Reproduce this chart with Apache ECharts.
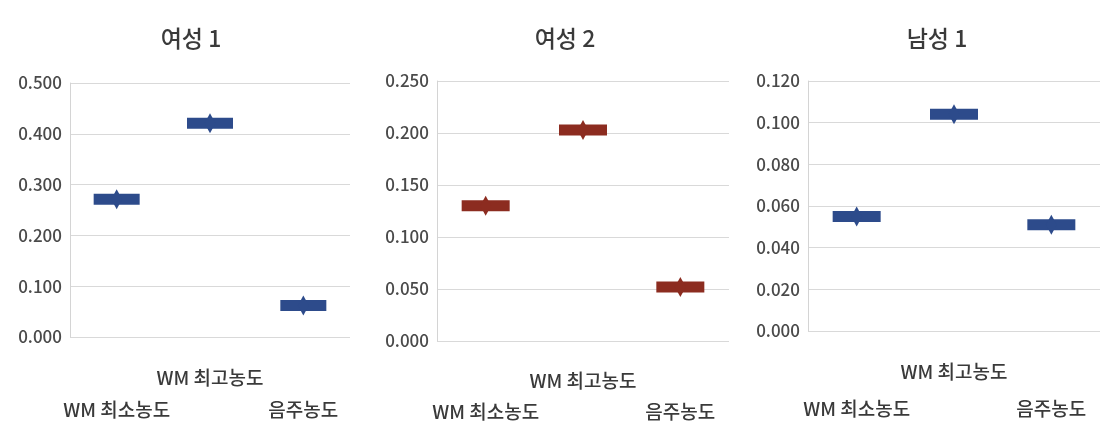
<!DOCTYPE html>
<html>
<head>
<meta charset="utf-8">
<script src="https://cdn.jsdelivr.net/npm/echarts@6/dist/echarts.min.js"></script>
<style>
  html, body { margin: 0; padding: 0; background: #fff; }
  #chart { width: 1108px; height: 427px; }
</style>
</head>
<body>
<div id="chart"></div>
<script>
// Concentration per subject: WM minimum, WM maximum, drinking concentration
const categories = ['WM 최소농도', 'WM 최고농도', '음주농도'];
const panelTitles = ['여성 1', '여성 2', '남성 1'];
const female1 = [0.271, 0.421, 0.062];
const female2 = [0.130, 0.203, 0.052];
const male1 = [0.055, 0.104, 0.051];
const axisMax = [0.5, 0.25, 0.12];
const axisStep = [0.1, 0.05, 0.02];

const panelValues = [female1, female2, male1];
const colors = ['#2d4b8b', '#8c2c20', '#2d4b8b'];
const font = '"Noto Sans CJK KR", "Noto Sans", sans-serif';

// layout of each small panel
const grids = [
  { left: 70, right: 758, top: 83, bottom: 90 },
  { left: 437, right: 379, top: 81, bottom: 86 },
  { left: 808, right: 8, top: 81, bottom: 95 }
];
const titleX = [186, 560, 932];
const labelMargin = [25, 24, 22];
const labelLine = [32, 31, 37];
const dashWidth = [46, 48, 48];

const option = {
  animation: false,
  title: panelTitles.map((t, i) => ({
    text: t,
    left: titleX[i],
    top: 22,
    textAlign: 'center',
    textStyle: { fontFamily: font, fontSize: 23, fontWeight: 500, color: '#3a3a3a' }
  })),
  grid: grids,
  xAxis: grids.map((g, i) => ({
    type: 'category',
    gridIndex: i,
    data: categories,
    boundaryGap: true,
    axisLine: { show: false },
    axisTick: { show: false },
    splitLine: { show: false },
    axisLabel: {
      interval: 0,
      hideOverlap: false,
      margin: labelMargin[i],
      fontFamily: font,
      fontSize: 19,
      fontWeight: 500,
      color: '#3a3a3a',
      lineHeight: labelLine[i],
      verticalAlign: 'top',
      formatter: (v, idx) => (idx === 1 ? v : '\n' + v)
    }
  })),
  yAxis: grids.map((g, i) => ({
    type: 'value',
    gridIndex: i,
    min: 0,
    max: axisMax[i],
    interval: axisStep[i],
    axisLine: { show: true, lineStyle: { color: '#d4d4d4', width: 1 } },
    axisTick: { show: false },
    splitLine: { show: true, lineStyle: { color: '#d9d9d9', width: 1 } },
    axisLabel: {
      margin: 8,
      fontFamily: font,
      fontSize: 17,
      fontWeight: 500,
      color: '#4a4a4a',
      formatter: v => v.toFixed(3)
    }
  })),
  series: panelValues.flatMap((vals, i) => [
    {
      type: 'scatter',
      xAxisIndex: i,
      yAxisIndex: i,
      data: vals,
      symbol: 'rect',
      symbolSize: [dashWidth[i], 11],
      itemStyle: { color: colors[i], opacity: 1 },
      z: 2
    },
    {
      type: 'scatter',
      xAxisIndex: i,
      yAxisIndex: i,
      data: vals,
      symbol: 'diamond',
      symbolSize: [11, 20],
      itemStyle: { color: colors[i], opacity: 1 },
      z: 3
    }
  ])
};

const chart = echarts.init(document.getElementById('chart'), null, { renderer: 'canvas' });
chart.setOption(option);
</script>
</body>
</html>
